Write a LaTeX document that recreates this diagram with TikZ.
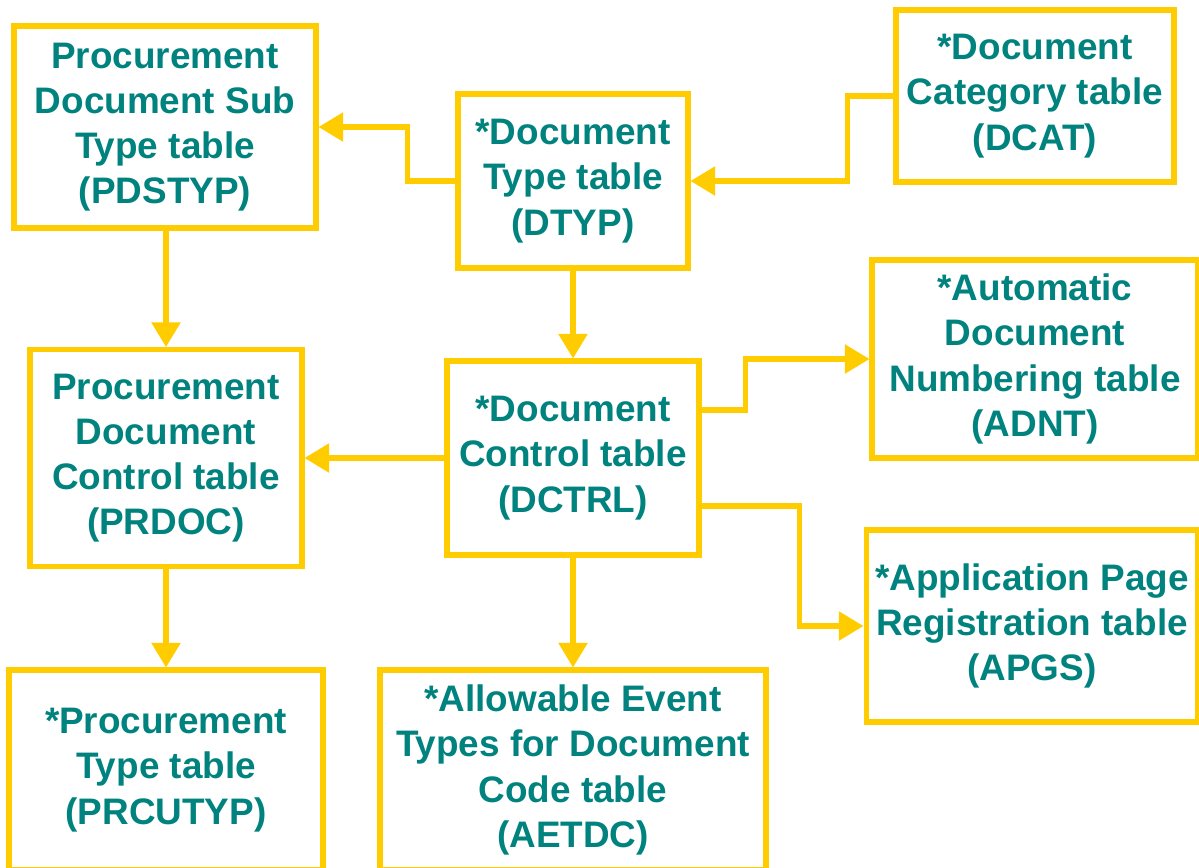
\documentclass[tikz,border=0pt]{standalone}
\usepackage{fontspec}
\setmainfont{Liberation Sans}
\usetikzlibrary{arrows.meta,calc}
\definecolor{boxyellow}{HTML}{FFCC00}
\definecolor{textteal}{HTML}{00837E}
\begin{document}
\begin{tikzpicture}[x=0.02cm,y=-0.02cm,
  tbl/.style={draw=boxyellow, line width=2.9pt, rectangle, inner sep=0pt, align=center,
    text=textteal, font=\fontsize{21}{25.7}\selectfont\bfseries},
  arr/.style={draw=boxyellow, line width=2.9pt, -{Triangle[length=14pt,width=16pt]}}]
\useasboundingbox (0,0) rectangle (1199,867);
\fill[white] (0,0) rectangle (1199,867);
\node[tbl, minimum width=6.04cm, minimum height=4.04cm] (PDSTYP) at (165,127) {Procurement\\Document Sub\\Type table\\(PDSTYP)};
\node[tbl, minimum width=4.6cm, minimum height=3.48cm] (DTYP) at (573,181) {*Document\\Type table\\(DTYP)};
\node[tbl, minimum width=5.56cm, minimum height=3.44cm] (DCAT) at (1035,96) {*Document\\Category table\\(DCAT)};
\node[tbl, minimum width=5.44cm, minimum height=4.34cm] (PRDOC) at (166,458) {Procurement\\Document\\Control table\\(PRDOC)};
\node[tbl, minimum width=5.04cm, minimum height=3.88cm] (DCTRL) at (573,458) {*Document\\Control table\\(DCTRL)};
\node[tbl, minimum width=6.52cm, minimum height=3.96cm] (ADNT) at (1035,359) {*Automatic\\Document\\Numbering table\\(ADNT)};
\node[tbl, minimum width=6.64cm, minimum height=3.84cm] (APGS) at (1032,626) {*Application Page\\Registration table\\(APGS)};
\node[tbl, minimum width=6.28cm, minimum height=4.0cm] (PRCUTYP) at (166,770) {*Procurement\\Type table\\(PRCUTYP)};
\node[tbl, minimum width=7.72cm, minimum height=4.0cm] (AETDC) at (573,770) {*Allowable Event\\Types for Document\\Code table\\(AETDC)};
\draw[arr] (DTYP.west) -- ++(-48,0) |- (PDSTYP.east);
\draw[arr] (DCAT.west) -- ++(-46,0) |- (DTYP.east);
\draw[arr] (DTYP.south) -- (DCTRL.north -| DTYP.south);
\draw[arr] (PDSTYP.south -| PRDOC.north) -- (PRDOC.north);
\draw[arr] (DCTRL.west) -- (DCTRL.west -| PRDOC.east);
\draw[arr] (PRDOC.south) -- (PRCUTYP.north -| PRDOC.south);
\draw[arr] (DCTRL.south) -- (AETDC.north -| DCTRL.south);
\draw[arr] ($(DCTRL.east)+(0,-48)$) -- ++(44,0) |- (ADNT.west);
\draw[arr] ($(DCTRL.east)+(0,48)$) -- ++(98,0) |- (APGS.west);
\end{tikzpicture}
\end{document}
